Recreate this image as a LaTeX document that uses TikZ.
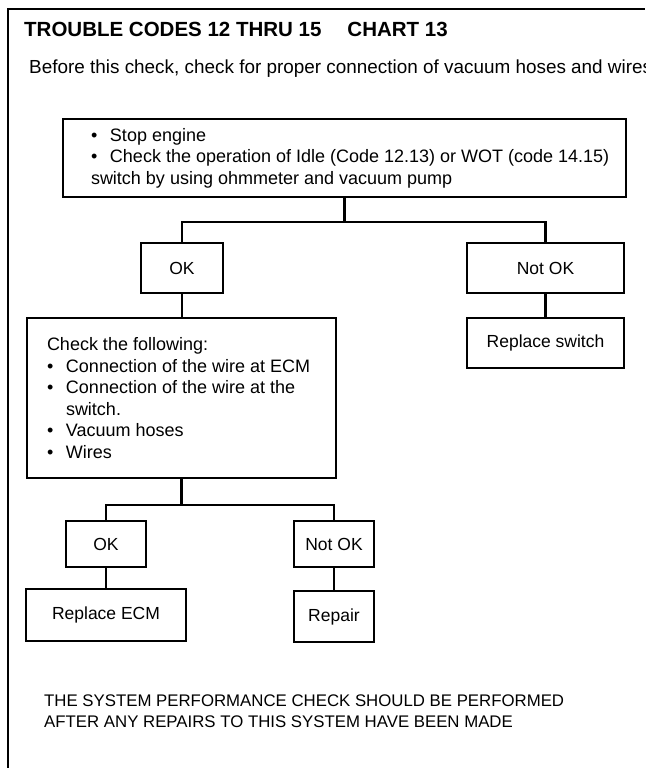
\documentclass[tikz,border=0pt]{standalone}
\usepackage{fontspec}
\setmainfont{Liberation Sans}
\newcommand{\bodyfont}{\fontsize{18}{21.5}\selectfont}
\newcommand{\smallboxfont}{\fontsize{17.5}{21}\selectfont}
\newcommand{\bul}{\makebox[19pt][l]{\textbullet}}
\begin{document}
\begin{tikzpicture}[x=1pt,y=-1pt,
  box/.style={draw, line width=2.4pt, inner sep=0pt, font=\smallboxfont},
  link/.style={draw, line width=2.4pt},
  frameline/.style={draw, line width=2.6pt},
  linetext/.style={anchor=west, align=left, inner sep=0pt, font=\bodyfont}]
\useasboundingbox (0,0) rectangle (645,768);

% page frame: left rule and top rule
\draw[frameline] (8,768) |- (645,9);

% heading
\node[anchor=base west, inner sep=0pt, font=\fontsize{20.5}{24}\selectfont\bfseries] (title)
  at (24,37) {TROUBLE CODES 12 THRU 15\hspace*{26pt}CHART 13};
\node[anchor=base west, inner sep=0pt, font=\fontsize{18.9}{22}\selectfont] (intro)
  at (29,74) {Before this check, check for proper connection of vacuum hoses and wires};

% first step
\node[box, minimum width=563, minimum height=78] (stop) at (344.5,158) {};
\node[linetext] (stoptext) at ([xshift=29]stop.west)
  {\bul Stop engine\\
   \bul Check the operation of Idle (Code 12.13) or WOT (code 14.15)\\
   switch by using ohmmeter and vacuum pump};

\node[box, minimum width=82, minimum height=50] (ok1) at (182,268) {OK};
\node[box, minimum width=157, minimum height=50] (nok1) at (545.5,268) {Not OK};
\node[box, minimum width=157, minimum height=50] (rswitch) at (545.5,343) {Replace switch};

% second step
\node[box, minimum width=309, minimum height=160] (check) at (181.5,398) {};
\node[linetext] (checktext) at ([xshift=21]check.west)
  {Check the following:\\
   \bul Connection of the wire at ECM\\
   \bul Connection of the wire at the\\
   \hspace*{19pt}switch.\\
   \bul Vacuum hoses\\
   \bul Wires};

\node[box, minimum width=80, minimum height=46] (ok2) at (106,544) {OK};
\node[box, minimum width=80, minimum height=46] (nok2) at (334,544) {Not OK};
\node[box, minimum width=160, minimum height=52] (ecm) at (106,615) {Replace ECM};
\node[box, minimum width=80, minimum height=51] (repair) at (334,616.5) {Repair};

% connectors
\path (stop.south) ++(0,24) coordinate (j1);
\draw[link] (stop.south) -- (j1);
\draw[link] (ok1.north) |- (j1) -| (nok1.north);
\draw[link] (nok1.south) -- (rswitch.north);
\draw[link] (ok1.south) -- (ok1.south |- check.north);

\path (check.south) ++(0,26) coordinate (j2);
\draw[link] (check.south) -- (j2);
\draw[link] (ok2.north) |- (j2) -| (nok2.north);
\draw[link] (ok2.south) -- (ecm.north);
\draw[link] (nok2.south) -- (repair.north);

% closing note
\node[anchor=base west, inner sep=0pt, font=\fontsize{16.8}{21}\selectfont, align=left] (note1)
  at (44,706) {THE SYSTEM PERFORMANCE CHECK SHOULD BE PERFORMED};
\node[anchor=base west, inner sep=0pt, font=\fontsize{16.8}{21}\selectfont, align=left] (note2)
  at (44,727) {AFTER ANY REPAIRS TO THIS SYSTEM HAVE BEEN MADE};
\end{tikzpicture}
\end{document}
